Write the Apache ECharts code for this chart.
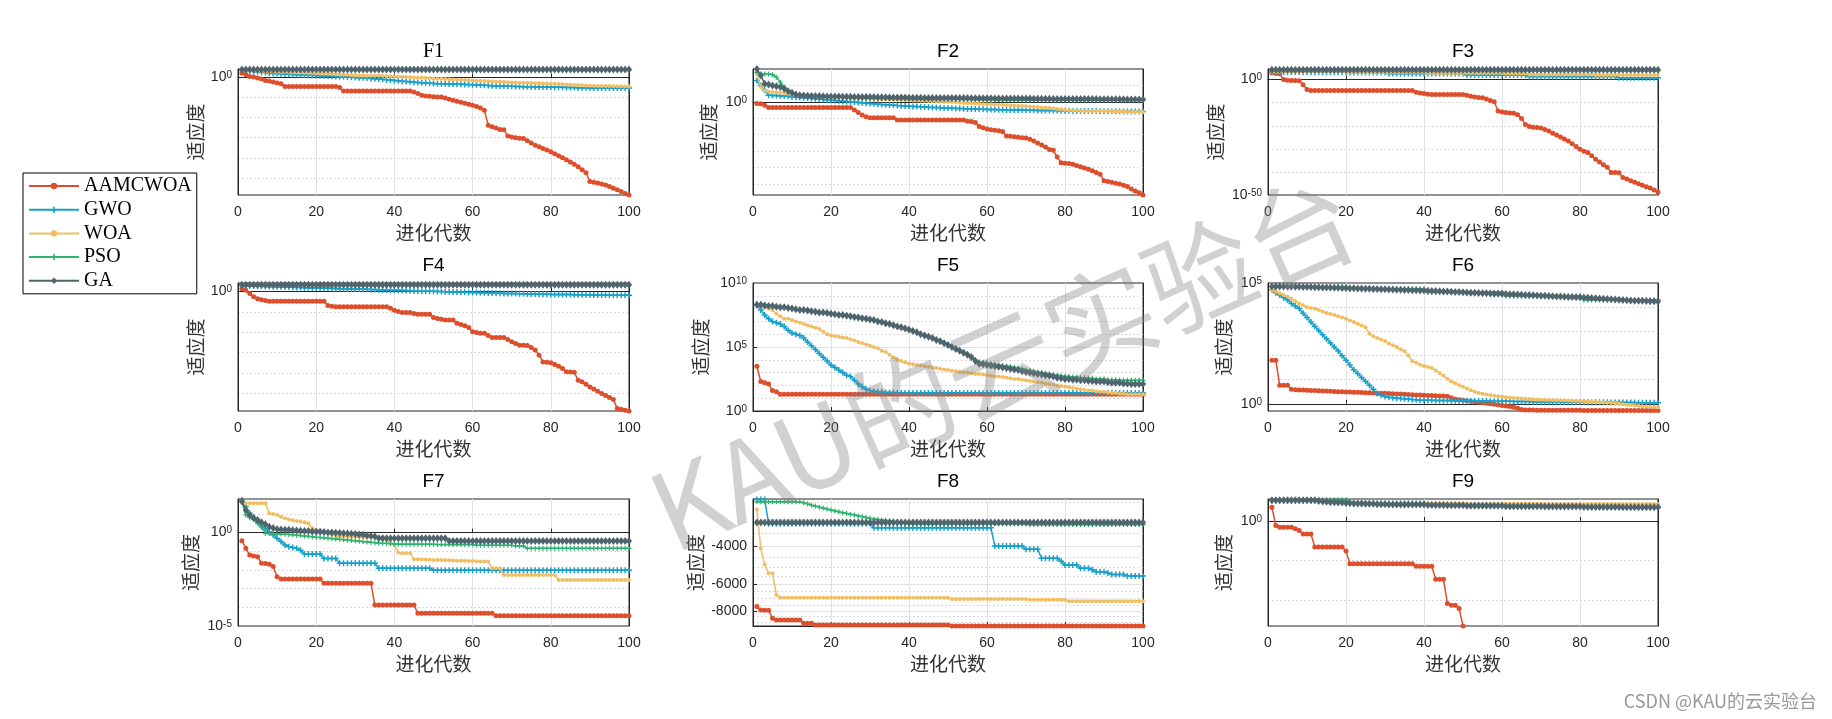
<!DOCTYPE html>
<html><head><meta charset="utf-8">
<script src="https://cdn.jsdelivr.net/npm/echarts@6/dist/echarts.min.js"></script>
<style>html,body{margin:0;padding:0;background:#fff}#c{width:1832px;height:719px}</style>
</head><body><div id="c"></div>
<script>
// ===== Data (log panels: values are log10 of fitness; F8: raw fitness) =====
const SERIES_NAMES = ['AAMCWOA','GWO','WOA','PSO','GA'];
const PANEL_TITLES = ['F1','F2','F3','F4','F5','F6','F7','F8','F9'];
const X_TICKS = [0,20,40,60,80,100];

const F1_AAMCWOA=[2.1,1.5,0.5,0.2,-0.3,-0.8,-1.5,-1.8,-2.3,-2.8,
-3.2,-4.5,-4.5,-4.5,-4.5,-4.5,-4.5,-4.5,-4.5,-4.5,
-4.5,-4.5,-4.5,-4.5,-4.5,-5.0,-6.8,-6.8,-6.8,-6.8,
-6.8,-6.8,-6.8,-6.8,-6.8,-6.8,-6.8,-6.8,-6.8,-6.8,
-6.8,-6.8,-6.8,-6.8,-7.2,-8.0,-8.9,-9.2,-9.4,-9.6,
-9.7,-9.7,-10.2,-10.8,-11.4,-11.8,-12.3,-12.8,-13.3,-13.9,
-14.5,-15.2,-16.3,-23.8,-24.5,-25.2,-25.9,-26.0,-29.2,-29.6,
-30.0,-30.2,-30.4,-31.5,-32.6,-33.7,-34.5,-35.3,-36.1,-37.0,
-38.0,-39.0,-40.0,-41.0,-42.1,-43.2,-44.4,-45.9,-47.4,-51.8,
-52.1,-52.5,-53.0,-53.5,-54.3,-55.1,-55.9,-56.8,-57.7,-58.5];
const F1_GWO=[3.5,3.4,3.2,3.0,2.8,2.6,2.4,2.2,2.0,1.9,
1.8,1.7,1.6,1.5,1.4,1.3,1.2,1.1,1.05,1.0,
0.9,0.8,0.7,0.6,0.5,0.4,0.3,0.2,0.1,0.0,
-0.1,-0.2,-0.3,-0.5,-0.6,-0.8,-0.9,-1.1,-1.3,-1.5,
-1.7,-1.9,-2.0,-2.2,-2.4,-2.5,-2.7,-2.8,-2.9,-3.0,
-3.1,-3.1,-3.2,-3.3,-3.3,-3.4,-3.4,-3.5,-3.5,-3.6,
-3.7,-3.8,-3.9,-4.0,-4.1,-4.2,-4.2,-4.3,-4.4,-4.4,
-4.5,-4.5,-4.6,-4.6,-4.6,-4.7,-4.7,-4.7,-4.8,-4.8,
-4.9,-4.9,-4.9,-5.0,-5.0,-5.0,-5.1,-5.1,-5.1,-5.2,
-5.2,-5.2,-5.2,-5.2,-5.3,-5.3,-5.3,-5.3,-5.3,-5.3];
const F1_WOA=[3.6,3.6,3.5,3.4,3.3,3.2,3.1,3.0,2.9,2.8,
2.7,2.7,2.6,2.5,2.5,2.4,2.3,2.3,2.2,2.1,
2.0,1.9,1.8,1.7,1.6,1.5,1.4,1.3,1.2,1.1,
1.0,1.0,0.9,0.9,0.8,0.8,0.7,0.6,0.6,0.5,
0.4,0.3,0.2,0.1,0.0,-0.1,-0.2,-0.3,-0.4,-0.5,
-0.6,-0.7,-0.8,-0.9,-1.0,-1.1,-1.2,-1.3,-1.4,-1.5,
-1.6,-1.7,-1.8,-1.9,-2.0,-2.1,-2.2,-2.3,-2.4,-2.5,
-2.5,-2.6,-2.7,-2.7,-2.8,-2.9,-2.9,-3.0,-3.0,-3.1,
-3.2,-3.3,-3.4,-3.5,-3.6,-3.7,-3.8,-3.9,-4.0,-4.1,
-4.1,-4.2,-4.2,-4.3,-4.3,-4.4,-4.4,-4.4,-4.5,-4.5];
const F1_PSO=[3.9,3.9,3.9,3.9,3.9,3.9,3.9,3.9,3.9,3.9,
3.9,3.9,3.9,3.9,3.9,3.9,3.9,3.9,3.9,3.9,
3.9,3.9,3.9,3.9,3.9,3.9,3.9,3.9,3.9,3.9,
3.9,3.9,3.9,3.9,3.9,3.9,3.9,3.9,3.9,3.9,
3.9,3.9,3.9,3.9,3.9,3.9,3.9,3.9,3.9,3.9,
3.9,3.9,3.9,3.9,3.9,3.9,3.9,3.9,3.9,3.9,
3.9,3.9,3.9,3.9,3.9,3.9,3.9,3.9,3.9,3.9,
3.9,3.9,3.9,3.9,3.9,3.9,3.9,3.9,3.9,3.9,
3.9,3.9,3.9,3.9,3.9,3.9,3.9,3.9,3.9,3.9,
3.9,3.9,3.9,3.9,3.9,3.9,3.9,3.9,3.9,3.9];
const F1_GA=[4.0,4.0,4.0,4.0,4.0,4.0,4.0,4.0,4.0,4.0,
4.0,4.0,4.0,4.0,4.0,4.0,4.0,4.0,4.0,4.0,
4.0,4.0,4.0,4.0,4.0,4.0,4.0,4.0,4.0,4.0,
4.0,4.0,4.0,4.0,4.0,4.0,4.0,4.0,4.0,4.0,
4.0,4.0,4.0,4.0,4.0,4.0,4.0,4.0,4.0,4.0,
4.0,4.0,4.0,4.0,4.0,4.0,4.0,4.0,4.0,4.0,
4.0,4.0,4.0,4.0,4.0,4.0,4.0,4.0,4.0,4.0,
4.0,4.0,4.0,4.0,4.0,4.0,4.0,4.0,4.0,4.0,
4.0,4.0,4.0,4.0,4.0,4.0,4.0,4.0,4.0,4.0,
4.0,4.0,4.0,4.0,4.0,4.0,4.0,4.0,4.0,4.0];

const F2_AAMCWOA=[-1.0,-1.2,-2.0,-3.4,-3.5,-3.5,-3.5,-3.5,-3.5,-3.5,
-3.5,-3.5,-3.5,-3.5,-3.5,-3.5,-3.5,-3.5,-3.5,-3.5,
-3.5,-3.5,-3.5,-3.5,-3.5,-5.0,-6.5,-8.0,-9.0,-9.6,
-9.6,-9.6,-9.6,-9.6,-9.6,-9.6,-11.0,-11.1,-11.1,-11.1,
-11.1,-11.1,-11.1,-11.1,-11.1,-11.1,-11.1,-11.1,-11.1,-11.1,
-11.1,-11.1,-11.1,-11.1,-11.8,-12.0,-12.5,-15.0,-15.8,-16.5,
-17.0,-17.3,-17.6,-18.0,-20.8,-21.0,-21.3,-21.6,-21.8,-22.0,
-22.8,-23.8,-25.0,-26.2,-27.5,-29.0,-29.5,-33.6,-37.0,-37.3,
-37.6,-38.0,-38.8,-39.5,-40.2,-41.0,-42.0,-43.0,-44.0,-48.0,
-48.5,-49.0,-49.5,-50.0,-50.8,-51.6,-53.0,-54.2,-55.4,-56.7];
const F2_GWO=[13,10,7,4,3.9,3.8,3.7,3.6,3.5,3.0,
2.8,2.6,2.5,2.3,2.1,1.9,1.7,1.5,1.2,1.0,
0.8,0.6,0.4,0.2,0.0,-0.2,-0.4,-0.6,-0.8,-1.0,
-1.2,-1.4,-1.6,-1.7,-1.9,-2.0,-2.2,-2.3,-2.5,-2.6,
-2.8,-2.9,-3.0,-3.2,-3.3,-3.4,-3.5,-3.6,-3.7,-3.8,
-3.9,-4.0,-4.1,-4.2,-4.3,-4.3,-4.4,-4.5,-4.5,-4.6,
-4.7,-4.7,-4.8,-4.8,-4.9,-4.9,-5.0,-5.0,-5.0,-5.1,
-5.1,-5.1,-5.2,-5.2,-5.2,-5.3,-5.3,-5.3,-5.4,-5.4,
-5.4,-5.5,-5.5,-5.5,-5.6,-5.6,-5.6,-5.6,-5.7,-5.7,
-5.7,-5.7,-5.7,-5.8,-5.8,-5.8,-5.8,-5.8,-5.8,-5.8];
const F2_WOA=[17,9,6.7,6.2,6.0,5.8,5.6,5.3,5.0,4.5,
4.3,4.2,4.0,3.9,3.8,3.6,3.5,3.3,3.1,3.0,
2.9,2.8,2.7,2.6,2.5,2.4,2.3,2.2,2.1,2.0,
1.9,1.8,1.7,1.6,1.5,1.4,1.3,1.2,1.1,1.0,
0.9,0.8,0.7,0.6,0.5,0.4,0.3,0.2,0.1,0.0,
-0.1,-0.3,-0.5,-0.7,-0.8,-0.9,-1.0,-1.1,-1.3,-1.4,
-1.5,-1.6,-1.7,-1.8,-1.9,-2.0,-2.2,-2.3,-2.5,-2.6,
-2.8,-3.0,-3.2,-3.4,-3.6,-3.8,-4.1,-4.4,-4.7,-5.0,
-5.1,-5.2,-5.3,-5.4,-5.5,-5.5,-5.6,-5.6,-5.6,-5.6,
-5.7,-5.8,-5.9,-6.0,-6.0,-6.1,-6.1,-6.2,-6.2,-6.2];
const F2_PSO=[18,17,17,17,16.5,15,12,9,7,5.5,
4.6,4.2,3.6,3.5,3.4,3.3,3.2,3.1,3.0,3.0,
2.9,2.9,2.8,2.8,2.7,2.7,2.6,2.6,2.5,2.5,
2.4,2.4,2.3,2.3,2.2,2.2,2.1,2.1,2.0,2.0,
1.95,1.9,1.9,1.85,1.8,1.8,1.75,1.7,1.7,1.65,
1.6,1.6,1.55,1.5,1.5,1.45,1.4,1.4,1.35,1.3,
1.3,1.3,1.25,1.25,1.2,1.2,1.2,1.15,1.15,1.1,
1.1,1.1,1.1,1.1,1.1,1.1,1.1,1.1,1.1,1.1,
1.05,1.05,1.05,1.05,1.05,1.05,1.05,1.05,1.05,1.05,
1.0,1.0,1.0,1.0,1.0,1.0,1.0,1.0,1.0,1.0];
const F2_GA=[20,16,11,10.5,10,9.5,9,8,6.5,5.5,
4.5,4.0,3.8,3.7,3.6,3.5,3.5,3.4,3.3,3.2,
3.2,3.2,3.1,3.1,3.1,3.0,3.0,3.0,2.9,2.9,
2.9,2.8,2.8,2.8,2.7,2.7,2.7,2.6,2.6,2.5,
2.5,2.5,2.5,2.4,2.4,2.4,2.4,2.4,2.3,2.3,
2.3,2.3,2.3,2.3,2.3,2.2,2.2,2.2,2.2,2.2,
2.2,2.1,2.1,2.1,2.1,2.1,2.0,2.0,2.0,2.0,
2.0,1.9,1.9,1.9,1.9,1.9,1.8,1.8,1.8,1.8,
1.8,1.8,1.7,1.7,1.7,1.7,1.7,1.7,1.6,1.6,
1.6,1.6,1.6,1.6,1.6,1.5,1.5,1.5,1.5,1.5];

const F3_AAMCWOA=[2.9,2.7,2.5,0.0,-0.3,-0.4,-0.4,-0.5,-2.2,-4.3,
-4.7,-4.7,-4.7,-4.7,-4.7,-4.7,-4.7,-4.7,-4.7,-4.7,
-4.7,-4.7,-4.7,-4.7,-4.7,-4.7,-4.7,-4.7,-4.7,-4.7,
-4.7,-4.7,-4.7,-4.7,-4.7,-4.7,-4.7,-5.5,-5.8,-6.0,
-6.3,-6.5,-6.5,-6.5,-6.5,-6.5,-6.5,-6.5,-6.5,-6.5,
-6.8,-7.2,-7.5,-7.7,-7.9,-8.4,-9.0,-9.6,-13.6,-14.0,
-14.3,-14.5,-14.6,-15.2,-16.8,-19.4,-20.3,-20.6,-20.8,-21.0,
-21.6,-22.3,-23.2,-24.0,-24.9,-25.7,-26.6,-27.8,-29.0,-30.2,
-31.0,-31.6,-33.0,-34.5,-35.7,-36.9,-38.0,-40.2,-40.3,-40.4,
-42.4,-43.1,-43.8,-44.5,-45.1,-45.8,-46.4,-47.0,-47.8,-48.7];
const F3_GWO=[3.3,3.3,3.3,3.3,3.3,3.3,3.3,3.3,3.3,3.3,
3.2,3.2,3.2,3.2,3.2,3.2,3.2,3.2,3.2,3.2,
3.1,3.1,3.1,3.1,3.1,3.1,3.1,3.1,3.1,3.1,
2.6,2.6,2.6,2.6,2.6,2.6,2.6,2.6,2.6,2.6,
2.6,2.6,2.6,2.6,2.6,2.6,2.6,2.6,2.6,2.6,
2.0,2.0,2.0,2.0,2.0,2.0,2.0,2.0,2.0,2.0,
2.0,2.0,2.0,2.0,2.0,2.0,1.4,1.4,1.4,1.4,
1.4,1.4,1.4,1.4,1.4,1.4,1.4,1.4,1.4,1.4,
1.4,1.4,1.4,1.4,1.4,1.4,1.4,1.4,1.4,0.8,
0.8,0.8,0.8,0.8,0.8,0.8,0.8,0.8,0.8,0.8];
const F3_WOA=[3.4,3.4,3.4,3.4,3.4,3.4,3.4,3.4,3.4,3.4,
3.4,3.4,3.4,3.4,3.4,3.4,3.4,3.4,3.4,3.4,
3.2,3.2,3.2,3.2,3.2,3.2,3.2,3.2,3.2,3.2,
3.2,3.2,3.2,3.2,3.2,3.2,3.2,3.2,3.2,3.2,
2.9,2.9,2.9,2.9,2.9,2.9,2.9,2.9,2.9,2.9,
2.9,2.9,2.9,2.9,2.9,2.9,2.9,2.9,2.9,2.9,
2.6,2.6,2.6,2.6,2.6,2.6,2.2,2.2,2.2,2.2,
2.2,2.2,2.2,2.2,2.2,2.2,2.2,2.2,2.2,2.2,
2.2,2.2,2.2,2.0,2.0,2.0,2.0,2.0,2.0,2.0,
2.0,2.0,2.0,2.0,2.0,2.0,2.0,2.0,2.0,2.0];
const F3_PSO=[3.9,3.9,3.9,3.9,3.9,3.9,3.9,3.9,3.9,3.9,
3.9,3.9,3.9,3.9,3.9,3.9,3.9,3.9,3.9,3.9,
3.9,3.9,3.9,3.9,3.9,3.9,3.9,3.9,3.9,3.9,
3.9,3.9,3.9,3.9,3.9,3.9,3.9,3.9,3.9,3.9,
3.9,3.9,3.9,3.9,3.9,3.9,3.9,3.9,3.9,3.9,
3.9,3.9,3.9,3.9,3.9,3.9,3.9,3.9,3.9,3.9,
3.9,3.9,3.9,3.9,3.9,3.9,3.9,3.9,3.9,3.9,
3.9,3.9,3.9,3.9,3.9,3.9,3.9,3.9,3.9,3.9,
3.9,3.9,3.9,3.9,3.9,3.9,3.9,3.9,3.9,3.9,
3.9,3.9,3.9,3.9,3.9,3.9,3.9,3.9,3.9,3.9];
const F3_GA=[4.3,4.3,4.3,4.3,4.3,4.3,4.3,4.3,4.3,4.3,
4.3,4.3,4.3,4.3,4.3,4.3,4.3,4.3,4.3,4.3,
4.3,4.3,4.3,4.3,4.3,4.3,4.3,4.3,4.3,4.3,
4.3,4.3,4.3,4.3,4.3,4.3,4.3,4.3,4.3,4.3,
4.3,4.3,4.3,4.3,4.3,4.3,4.3,4.3,4.3,4.3,
4.3,4.3,4.3,4.3,4.3,4.3,4.3,4.3,4.3,4.3,
4.3,4.3,4.3,4.3,4.3,4.3,4.3,4.3,4.3,4.3,
4.3,4.3,4.3,4.3,4.3,4.3,4.3,4.3,4.3,4.3,
4.3,4.3,4.3,4.3,4.3,4.3,4.3,4.3,4.3,4.3,
4.3,4.3,4.3,4.3,4.3,4.3,4.3,4.3,4.3,4.3];

const F4_AAMCWOA=[1.4,0.6,-1.0,-2.5,-3.5,-4.0,-4.4,-4.7,-4.8,-4.8,
-4.8,-4.8,-4.8,-4.8,-4.8,-4.8,-4.8,-4.8,-4.8,-4.8,
-4.8,-4.8,-6.8,-7.2,-7.5,-7.5,-7.5,-7.5,-7.5,-7.5,
-7.5,-7.5,-7.5,-7.5,-7.5,-7.5,-7.5,-7.5,-8.2,-9.2,
-9.8,-10.3,-10.3,-10.3,-10.8,-11.1,-11.1,-11.1,-11.1,-12.7,
-13.2,-13.6,-14.0,-14.0,-14.0,-15.6,-16.2,-16.8,-17.6,-19.7,
-20.1,-20.5,-20.5,-21.5,-22.5,-22.5,-22.5,-22.6,-23.5,-24.6,
-25.5,-26.3,-26.4,-26.5,-27.5,-28.7,-31.2,-34.5,-34.7,-34.9,
-35.8,-36.6,-37.8,-39.4,-39.5,-39.6,-43.5,-44.3,-45.5,-46.8,
-47.8,-48.9,-50.0,-51.0,-52.0,-53.0,-57.4,-57.8,-58.2,-58.6];
const F4_GWO=[3.0,2.9,2.9,2.8,2.7,2.6,2.5,2.5,2.4,2.3,
2.3,2.2,2.2,2.1,2.0,2.0,1.9,1.9,1.8,1.7,
1.7,1.6,1.6,1.5,1.5,1.4,1.4,1.3,1.3,1.2,
1.2,1.1,1.1,1.0,1.0,0.9,0.8,0.8,0.7,0.6,
0.6,0.5,0.5,0.4,0.3,0.3,0.2,0.2,0.1,0.1,
0.0,0.0,-0.1,-0.1,-0.2,-0.2,-0.3,-0.3,-0.4,-0.5,
-0.5,-0.6,-0.6,-0.7,-0.7,-0.8,-0.8,-0.9,-0.9,-1.0,
-1.0,-1.1,-1.1,-1.2,-1.2,-1.2,-1.3,-1.3,-1.3,-1.4,
-1.4,-1.4,-1.5,-1.5,-1.5,-1.6,-1.6,-1.6,-1.6,-1.7,
-1.7,-1.7,-1.7,-1.7,-1.8,-1.8,-1.8,-1.8,-1.8,-1.8];
const F4_WOA=[3.2,3.2,3.2,3.2,3.2,3.2,3.2,3.2,3.2,3.2,
3.2,3.2,3.2,3.2,3.2,3.2,3.2,3.2,3.2,3.2,
3.2,3.2,3.2,3.2,3.2,3.2,3.2,3.2,3.2,3.2,
3.2,3.2,3.2,3.2,3.2,3.2,3.2,3.2,3.2,3.2,
3.2,3.2,3.2,3.2,3.2,3.2,3.2,3.2,3.2,3.2,
3.2,3.2,3.2,3.2,3.2,3.2,3.2,3.2,3.2,3.2,
3.2,3.2,3.2,3.2,3.2,3.2,3.2,3.2,3.2,3.2,
3.2,3.2,3.2,3.2,3.2,3.2,3.2,3.2,3.2,3.2,
3.2,3.2,3.2,3.2,3.2,3.2,3.2,3.2,3.2,3.2,
3.2,3.2,3.2,3.2,3.2,3.2,3.2,3.2,3.2,3.2];
const F4_PSO=[3.3,3.3,3.3,3.3,3.3,3.3,3.3,3.3,3.3,3.3,
3.3,3.3,3.3,3.3,3.3,3.3,3.3,3.3,3.3,3.3,
3.3,3.3,3.3,3.3,3.3,3.3,3.3,3.3,3.3,3.3,
3.3,3.3,3.3,3.3,3.3,3.3,3.3,3.3,3.3,3.3,
3.3,3.3,3.3,3.3,3.3,3.3,3.3,3.3,3.3,3.3,
3.3,3.3,3.3,3.3,3.3,3.3,3.3,3.3,3.3,3.3,
3.3,3.3,3.3,3.3,3.3,3.3,3.3,3.3,3.3,3.3,
3.3,3.3,3.3,3.3,3.3,3.3,3.3,3.3,3.3,3.3,
3.3,3.3,3.3,3.3,3.3,3.3,3.3,3.3,3.3,3.3,
3.3,3.3,3.3,3.3,3.3,3.3,3.3,3.3,3.3,3.3];
const F4_GA=[3.4,3.4,3.4,3.4,3.4,3.4,3.4,3.4,3.4,3.4,
3.4,3.4,3.4,3.4,3.4,3.4,3.4,3.4,3.4,3.4,
3.4,3.4,3.4,3.4,3.4,3.4,3.4,3.4,3.4,3.4,
3.4,3.4,3.4,3.4,3.4,3.4,3.4,3.4,3.4,3.4,
3.4,3.4,3.4,3.4,3.4,3.4,3.4,3.4,3.4,3.4,
3.4,3.4,3.4,3.4,3.4,3.4,3.4,3.4,3.4,3.4,
3.4,3.4,3.4,3.4,3.4,3.4,3.4,3.4,3.4,3.4,
3.4,3.4,3.4,3.4,3.4,3.4,3.4,3.4,3.4,3.4,
3.4,3.4,3.4,3.4,3.4,3.4,3.4,3.4,3.4,3.4,
3.4,3.4,3.4,3.4,3.4,3.4,3.4,3.4,3.4,3.4];

const F5_AAMCWOA=[3.5,2.3,2.2,2.1,1.6,1.5,1.3,1.3,1.3,1.3,
1.3,1.3,1.3,1.3,1.3,1.3,1.3,1.3,1.3,1.3,
1.3,1.3,1.3,1.3,1.3,1.3,1.3,1.3,1.3,1.3,
1.3,1.3,1.3,1.3,1.3,1.3,1.3,1.3,1.3,1.3,
1.3,1.3,1.3,1.3,1.3,1.3,1.3,1.3,1.3,1.3,
1.3,1.3,1.3,1.3,1.3,1.3,1.3,1.3,1.3,1.3,
1.3,1.3,1.3,1.3,1.3,1.3,1.3,1.3,1.3,1.3,
1.3,1.3,1.3,1.3,1.3,1.3,1.3,1.3,1.3,1.3,
1.3,1.3,1.3,1.3,1.3,1.3,1.3,1.3,1.3,1.3,
1.3,1.3,1.3,1.3,1.3,1.3,1.3,1.3,1.3,1.3];
const F5_GWO=[8.3,7.9,7.5,7.2,7.0,6.9,6.8,6.6,6.3,6.1,
6.0,5.9,5.7,5.4,5.1,4.8,4.5,4.2,3.9,3.6,
3.4,3.2,3.0,2.8,2.7,2.4,2.1,1.9,1.7,1.6,
1.55,1.5,1.5,1.45,1.45,1.45,1.4,1.4,1.4,1.4,
1.4,1.4,1.4,1.4,1.4,1.4,1.4,1.4,1.4,1.4,
1.4,1.4,1.4,1.4,1.4,1.4,1.4,1.4,1.4,1.4,
1.4,1.4,1.4,1.4,1.4,1.4,1.4,1.4,1.4,1.4,
1.4,1.4,1.4,1.4,1.4,1.4,1.4,1.4,1.4,1.4,
1.4,1.4,1.4,1.4,1.4,1.4,1.4,1.4,1.4,1.4,
1.4,1.4,1.4,1.4,1.4,1.4,1.4,1.4,1.4,1.4];
const F5_WOA=[8.3,8.2,8.1,8.0,7.9,7.6,7.4,7.2,7.2,7.1,
7.0,6.9,6.8,6.7,6.6,6.5,6.4,6.2,6.0,5.9,
5.85,5.8,5.75,5.7,5.6,5.5,5.4,5.3,5.2,5.1,
5.0,4.9,4.7,4.6,4.4,4.2,4.0,3.9,3.8,3.7,
3.65,3.6,3.55,3.5,3.45,3.4,3.35,3.3,3.25,3.2,
3.15,3.1,3.05,3.0,3.0,2.95,2.9,2.9,2.85,2.8,
2.75,2.7,2.7,2.65,2.6,2.55,2.5,2.5,2.45,2.4,
2.35,2.3,2.25,2.2,2.15,2.1,2.05,2.0,1.95,1.9,
1.85,1.8,1.75,1.7,1.65,1.6,1.6,1.55,1.5,1.5,
1.45,1.4,1.4,1.35,1.35,1.3,1.3,1.3,1.3,1.3];
const F5_PSO=[8.35,8.35,8.3,8.25,8.25,8.2,8.15,8.15,8.1,8.05,
8.0,7.95,7.95,7.9,7.85,7.8,7.75,7.75,7.7,7.65,
7.6,7.55,7.55,7.5,7.45,7.4,7.35,7.3,7.25,7.2,
7.15,7.05,7.0,6.9,6.85,6.75,6.65,6.6,6.5,6.4,
6.3,6.2,6.05,5.95,5.85,5.75,5.6,5.5,5.35,5.2,
5.05,4.9,4.75,4.6,4.45,4.3,4.0,3.85,3.8,3.75,
3.7,3.65,3.6,3.55,3.5,3.45,3.4,3.35,3.3,3.2,
3.15,3.1,3.05,3.0,2.95,2.9,2.85,2.8,2.75,2.7,
2.7,2.65,2.65,2.6,2.6,2.55,2.55,2.5,2.5,2.5,
2.45,2.45,2.45,2.4,2.4,2.4,2.4,2.4,2.4,2.4];
const F5_GA=[8.3,8.3,8.25,8.2,8.2,8.15,8.1,8.1,8.05,8.0,
7.95,7.9,7.9,7.85,7.8,7.75,7.7,7.7,7.65,7.6,
7.55,7.5,7.5,7.45,7.4,7.35,7.3,7.25,7.2,7.15,
7.1,7.0,6.95,6.85,6.8,6.7,6.6,6.55,6.45,6.35,
6.25,6.15,6.0,5.9,5.8,5.7,5.55,5.45,5.3,5.15,
5.0,4.85,4.7,4.55,4.4,4.2,3.9,3.7,3.65,3.6,
3.55,3.5,3.45,3.4,3.35,3.3,3.25,3.2,3.1,3.05,
3.0,2.95,2.9,2.85,2.8,2.75,2.7,2.6,2.55,2.5,
2.5,2.45,2.45,2.4,2.4,2.35,2.35,2.3,2.3,2.3,
2.25,2.2,2.2,2.2,2.15,2.15,2.1,2.1,2.1,2.1];

const F6_AAMCWOA=[1.8,1.8,0.77,0.77,0.77,0.6,0.58,0.57,0.57,0.56,
0.55,0.55,0.54,0.53,0.53,0.52,0.51,0.5,0.5,0.49,
0.49,0.48,0.48,0.47,0.46,0.46,0.45,0.44,0.43,0.43,
0.42,0.41,0.4,0.4,0.39,0.38,0.37,0.36,0.36,0.35,
0.34,0.34,0.33,0.32,0.32,0.31,0.25,0.2,0.17,0.14,
0.12,0.1,0.08,0.06,0.04,0.02,0.0,-0.02,-0.04,-0.07,
-0.09,-0.11,-0.14,-0.19,-0.24,-0.26,-0.26,-0.26,-0.27,-0.27,
-0.27,-0.27,-0.27,-0.27,-0.27,-0.27,-0.27,-0.27,-0.27,-0.27,
-0.28,-0.28,-0.28,-0.28,-0.28,-0.28,-0.28,-0.28,-0.28,-0.28,
-0.28,-0.28,-0.28,-0.28,-0.28,-0.28,-0.28,-0.28,-0.28,-0.28];
const F6_GWO=[4.72,4.6,4.5,4.4,4.3,4.15,4.05,3.94,3.75,3.57,
3.39,3.21,3.03,2.86,2.69,2.52,2.35,2.18,1.99,1.8,
1.6,1.41,1.25,1.09,0.93,0.77,0.6,0.42,0.35,0.3,
0.27,0.25,0.23,0.22,0.21,0.2,0.18,0.17,0.15,0.14,
0.14,0.14,0.13,0.13,0.13,0.13,0.12,0.12,0.12,0.12,
0.12,0.11,0.11,0.11,0.11,0.11,0.1,0.1,0.1,0.1,
0.1,0.1,0.09,0.09,0.09,0.09,0.09,0.08,0.08,0.08,
0.08,0.08,0.08,0.08,0.07,0.07,0.07,0.07,0.07,0.07,
0.07,0.06,0.06,0.06,0.06,0.06,0.06,0.05,0.05,0.05,
0.05,0.05,0.05,0.05,0.04,0.04,0.04,0.04,0.04,0.04];
const F6_WOA=[4.72,4.65,4.58,4.5,4.44,4.35,4.25,4.15,4.08,4.0,
3.97,3.93,3.88,3.82,3.76,3.72,3.67,3.62,3.57,3.52,
3.45,3.38,3.31,3.24,3.17,2.9,2.8,2.72,2.66,2.6,
2.5,2.42,2.35,2.26,2.18,2.0,1.76,1.7,1.62,1.56,
1.52,1.48,1.38,1.27,1.16,1.04,0.92,0.85,0.77,0.7,
0.63,0.56,0.5,0.45,0.41,0.38,0.35,0.33,0.31,0.29,
0.27,0.25,0.24,0.23,0.22,0.21,0.2,0.19,0.18,0.17,
0.17,0.16,0.16,0.15,0.14,0.14,0.13,0.12,0.12,0.11,
0.1,0.09,0.08,0.07,0.06,0.05,0.04,0.03,0.02,0.0,
-0.02,-0.04,-0.05,-0.07,-0.08,-0.1,-0.11,-0.12,-0.13,-0.14];
const F6_PSO=[4.84,4.84,4.84,4.84,4.84,4.84,4.84,4.84,4.84,4.84,
4.84,4.84,4.84,4.84,4.84,4.84,4.84,4.84,4.84,4.84,
4.75,4.75,4.75,4.75,4.75,4.75,4.75,4.75,4.75,4.75,
4.75,4.75,4.75,4.75,4.75,4.75,4.75,4.75,4.75,4.75,
4.62,4.62,4.62,4.62,4.62,4.62,4.62,4.62,4.62,4.62,
4.62,4.62,4.62,4.62,4.62,4.62,4.62,4.62,4.62,4.62,
4.46,4.46,4.46,4.46,4.46,4.46,4.46,4.46,4.46,4.46,
4.46,4.46,4.46,4.46,4.46,4.46,4.46,4.46,4.46,4.46,
4.3,4.3,4.3,4.3,4.3,4.3,4.3,4.3,4.3,4.3,
4.3,4.3,4.3,4.3,4.3,4.3,4.3,4.3,4.3,4.3];
const F6_GA=[4.86,4.86,4.86,4.85,4.85,4.85,4.84,4.84,4.83,4.83,
4.83,4.82,4.82,4.81,4.81,4.81,4.8,4.8,4.79,4.79,
4.78,4.78,4.77,4.77,4.76,4.76,4.75,4.75,4.74,4.74,
4.73,4.73,4.72,4.72,4.71,4.71,4.7,4.7,4.69,4.69,
4.68,4.67,4.67,4.66,4.65,4.65,4.64,4.63,4.63,4.62,
4.61,4.6,4.6,4.59,4.58,4.58,4.57,4.56,4.56,4.55,
4.54,4.53,4.53,4.52,4.51,4.5,4.5,4.49,4.48,4.47,
4.47,4.46,4.45,4.44,4.44,4.43,4.42,4.42,4.41,4.41,
4.4,4.39,4.38,4.37,4.36,4.35,4.34,4.33,4.32,4.31,
4.3,4.29,4.28,4.27,4.26,4.26,4.25,4.24,4.24,4.23];

const F7_AAMCWOA=[-0.43,-0.84,-1.2,-1.25,-1.29,-1.64,-1.66,-1.7,-1.82,-2.36,
-2.48,-2.48,-2.48,-2.48,-2.48,-2.48,-2.48,-2.48,-2.48,-2.48,
-2.48,-2.71,-2.71,-2.71,-2.71,-2.71,-2.71,-2.71,-2.71,-2.71,
-2.71,-2.71,-2.71,-2.71,-3.88,-3.88,-3.88,-3.88,-3.88,-3.88,
-3.88,-3.88,-3.88,-3.88,-3.88,-4.32,-4.32,-4.32,-4.32,-4.32,
-4.32,-4.32,-4.32,-4.32,-4.32,-4.32,-4.32,-4.32,-4.32,-4.32,
-4.32,-4.32,-4.32,-4.32,-4.32,-4.45,-4.45,-4.45,-4.45,-4.45,
-4.45,-4.45,-4.45,-4.45,-4.45,-4.45,-4.45,-4.45,-4.45,-4.45,
-4.45,-4.45,-4.45,-4.45,-4.45,-4.45,-4.45,-4.45,-4.45,-4.45,
-4.45,-4.45,-4.45,-4.45,-4.45,-4.45,-4.45,-4.45,-4.45,-4.45];
const F7_GWO=[1.75,1.4,1.04,0.8,0.58,0.36,0.2,0.05,-0.13,-0.3,
-0.48,-0.66,-0.75,-0.8,-0.84,-0.95,-1.14,-1.14,-1.14,-1.14,
-1.14,-1.38,-1.38,-1.38,-1.38,-1.64,-1.64,-1.64,-1.64,-1.64,
-1.64,-1.64,-1.64,-1.64,-1.64,-1.91,-1.91,-1.91,-1.91,-1.91,
-1.91,-1.91,-1.91,-1.91,-1.91,-1.91,-1.91,-1.91,-1.91,-2.02,
-2.02,-2.02,-2.02,-2.02,-2.02,-2.02,-2.02,-2.02,-2.02,-2.02,
-2.02,-2.02,-2.02,-2.02,-2.02,-2.02,-2.02,-2.02,-2.02,-2.02,
-2.02,-2.02,-2.02,-2.02,-2.02,-2.02,-2.02,-2.02,-2.02,-2.02,
-2.02,-2.02,-2.02,-2.02,-2.02,-2.02,-2.02,-2.02,-2.02,-2.02,
-2.02,-2.02,-2.02,-2.02,-2.02,-2.02,-2.02,-2.02,-2.02,-2.02];
const F7_WOA=[1.66,1.57,1.57,1.57,1.57,1.57,1.57,1.04,1.0,0.95,
0.85,0.77,0.7,0.66,0.62,0.59,0.55,0.5,0.23,0.14,
0.1,0.05,0.0,-0.1,-0.21,-0.21,-0.22,-0.22,-0.23,-0.23,
-0.23,-0.24,-0.24,-0.24,-0.25,-0.25,-0.25,-0.4,-0.55,-0.66,
-1.07,-1.1,-1.1,-1.1,-1.43,-1.43,-1.44,-1.44,-1.45,-1.46,
-1.46,-1.47,-1.48,-1.48,-1.49,-1.5,-1.5,-1.51,-1.52,-1.52,
-1.53,-1.54,-1.54,-1.55,-1.91,-1.91,-1.91,-2.27,-2.27,-2.27,
-2.27,-2.27,-2.27,-2.27,-2.27,-2.27,-2.27,-2.27,-2.27,-2.27,
-2.27,-2.54,-2.54,-2.54,-2.54,-2.54,-2.54,-2.54,-2.54,-2.54,
-2.54,-2.54,-2.54,-2.54,-2.54,-2.54,-2.54,-2.54,-2.54,-2.54];
const F7_PSO=[1.66,0.95,0.8,0.7,0.5,0.3,-0.04,-0.05,-0.06,-0.07,
-0.08,-0.09,-0.1,-0.12,-0.14,-0.16,-0.18,-0.2,-0.22,-0.25,
-0.26,-0.28,-0.3,-0.32,-0.34,-0.36,-0.38,-0.4,-0.42,-0.44,
-0.46,-0.48,-0.5,-0.52,-0.54,-0.56,-0.57,-0.58,-0.59,-0.6,
-0.62,-0.62,-0.62,-0.62,-0.62,-0.62,-0.62,-0.62,-0.62,-0.62,
-0.64,-0.64,-0.64,-0.64,-0.64,-0.64,-0.64,-0.64,-0.64,-0.64,
-0.68,-0.68,-0.68,-0.68,-0.68,-0.68,-0.68,-0.68,-0.68,-0.68,
-0.71,-0.71,-0.71,-0.84,-0.84,-0.84,-0.84,-0.84,-0.84,-0.84,
-0.84,-0.84,-0.84,-0.84,-0.84,-0.84,-0.84,-0.84,-0.84,-0.84,
-0.84,-0.84,-0.84,-0.84,-0.84,-0.84,-0.84,-0.84,-0.84,-0.84];
const F7_GA=[1.66,1.2,0.95,0.8,0.68,0.55,0.45,0.32,0.25,0.18,
0.17,0.16,0.15,0.13,0.12,0.1,0.09,0.08,0.06,0.05,
0.04,0.03,0.01,0.0,-0.01,-0.02,-0.04,-0.05,-0.06,-0.07,
-0.1,-0.12,-0.15,-0.18,-0.21,-0.3,-0.3,-0.3,-0.3,-0.3,
-0.3,-0.3,-0.3,-0.3,-0.3,-0.3,-0.3,-0.3,-0.3,-0.3,
-0.3,-0.3,-0.3,-0.45,-0.45,-0.45,-0.45,-0.45,-0.45,-0.45,
-0.45,-0.45,-0.45,-0.45,-0.45,-0.45,-0.45,-0.45,-0.45,-0.45,
-0.45,-0.45,-0.45,-0.45,-0.45,-0.45,-0.45,-0.45,-0.45,-0.45,
-0.45,-0.45,-0.45,-0.45,-0.45,-0.45,-0.45,-0.45,-0.45,-0.45,
-0.45,-0.45,-0.45,-0.45,-0.45,-0.45,-0.45,-0.45,-0.45,-0.45];

// F8: raw fitness values (negative)
const F8_AAMCWOA=[-7641,-7914,-7950,-7950,-8650,-8811,-8811,-8811,-8811,-8811,
-8811,-8811,-9128,-9128,-9128,-9290,-9290,-9290,-9290,-9290,
-9290,-9290,-9290,-9290,-9290,-9290,-9290,-9290,-9290,-9290,
-9290,-9290,-9290,-9290,-9290,-9290,-9290,-9290,-9290,-9290,
-9290,-9290,-9290,-9290,-9290,-9290,-9290,-9290,-9290,-9290,
-9400,-9400,-9400,-9400,-9400,-9400,-9400,-9400,-9400,-9400,
-9400,-9400,-9400,-9400,-9400,-9400,-9400,-9400,-9400,-9400,
-9400,-9400,-9400,-9400,-9400,-9400,-9400,-9400,-9400,-9400,
-9400,-9400,-9400,-9400,-9400,-9400,-9400,-9400,-9400,-9400,
-9400,-9400,-9400,-9400,-9400,-9400,-9400,-9400,-9400,-9400];
const F8_GWO=[-2432,-2432,-2432,-3143,-3143,-3143,-3143,-3143,-3143,-3143,
-3143,-3143,-3143,-3143,-3143,-3143,-3143,-3143,-3143,-3143,
-3143,-3143,-3143,-3143,-3143,-3143,-3143,-3143,-3143,-3143,
-3291,-3291,-3291,-3291,-3291,-3291,-3291,-3291,-3291,-3291,
-3291,-3291,-3291,-3291,-3291,-3291,-3291,-3291,-3291,-3291,
-3291,-3291,-3291,-3291,-3291,-3291,-3291,-3291,-3291,-3291,
-3291,-4000,-4000,-4000,-4000,-4000,-4000,-4000,-4000,-4141,
-4141,-4141,-4141,-4558,-4558,-4558,-4558,-4558,-4700,-4893,
-4893,-4893,-4893,-5073,-5073,-5073,-5150,-5260,-5260,-5260,
-5330,-5420,-5420,-5420,-5420,-5507,-5507,-5507,-5507,-5507];
const F8_WOA=[-2705,-4100,-4865,-5355,-5355,-6750,-6960,-6960,-6960,-6960,
-6960,-6960,-6960,-6960,-6960,-6960,-6960,-6960,-6960,-6960,
-6960,-6960,-6960,-6960,-6960,-6960,-6960,-6960,-6960,-6960,
-6960,-6960,-6960,-6960,-6960,-6960,-6960,-6960,-6960,-6960,
-6960,-6960,-6960,-6960,-6960,-6960,-6960,-6960,-6960,-6960,
-7050,-7050,-7050,-7050,-7050,-7050,-7050,-7050,-7050,-7050,
-7050,-7050,-7050,-7050,-7050,-7050,-7050,-7050,-7050,-7050,
-7100,-7100,-7100,-7100,-7100,-7100,-7100,-7100,-7100,-7100,
-7220,-7220,-7220,-7220,-7220,-7220,-7220,-7220,-7220,-7220,
-7220,-7220,-7220,-7220,-7220,-7220,-7220,-7220,-7220,-7220];
const F8_PSO=[-2495,-2495,-2495,-2495,-2495,-2495,-2495,-2495,-2495,-2495,
-2495,-2495,-2520,-2550,-2585,-2610,-2640,-2665,-2695,-2723,
-2750,-2775,-2800,-2825,-2851,-2870,-2900,-2925,-2950,-2976,
-2995,-3010,-3025,-3040,-3053,-3070,-3085,-3100,-3120,-3150,
-3150,-3150,-3150,-3150,-3150,-3150,-3150,-3150,-3150,-3150,
-3150,-3150,-3150,-3150,-3150,-3150,-3150,-3150,-3150,-3150,
-3150,-3150,-3150,-3150,-3150,-3150,-3150,-3150,-3150,-3150,
-3180,-3180,-3180,-3180,-3180,-3180,-3180,-3180,-3180,-3180,
-3180,-3180,-3180,-3180,-3180,-3180,-3180,-3180,-3180,-3180,
-3180,-3180,-3180,-3180,-3180,-3180,-3180,-3180,-3180,-3180];
const F8_GA=[-3110,-3110,-3110,-3110,-3110,-3110,-3110,-3110,-3110,-3110,
-3110,-3110,-3110,-3110,-3110,-3110,-3110,-3110,-3110,-3110,
-3110,-3110,-3110,-3110,-3110,-3110,-3110,-3110,-3110,-3110,
-3110,-3110,-3110,-3110,-3110,-3110,-3110,-3110,-3110,-3110,
-3110,-3110,-3110,-3110,-3110,-3110,-3110,-3110,-3110,-3110,
-3110,-3110,-3110,-3110,-3110,-3110,-3110,-3110,-3110,-3110,
-3110,-3110,-3110,-3110,-3110,-3110,-3110,-3110,-3110,-3110,
-3110,-3110,-3110,-3110,-3110,-3110,-3110,-3110,-3110,-3110,
-3110,-3110,-3110,-3110,-3110,-3110,-3110,-3110,-3110,-3110,
-3110,-3110,-3110,-3110,-3110,-3110,-3110,-3110,-3110,-3110];

const F9_AAMCWOA=[1.71,-0.58,-0.79,-0.79,-0.79,-0.79,-1.0,-1.21,-1.63,-1.63,
-1.63,-3.29,-3.29,-3.29,-3.29,-3.29,-3.29,-3.29,-3.29,-3.79,
-5.38,-5.38,-5.38,-5.38,-5.38,-5.38,-5.38,-5.38,-5.38,-5.38,
-5.38,-5.38,-5.38,-5.38,-5.38,-5.38,-5.38,-5.71,-5.71,-5.71,
-5.71,-5.71,-7.33,-7.33,-7.33,-10.38,-10.58,-10.58,-11.0,-13.2];
const F9_GWO=[2.55,2.55,2.55,2.55,2.55,2.55,2.55,2.55,2.55,2.55,
2.55,2.55,2.55,2.55,2.55,2.55,2.55,2.55,2.55,2.55,
2.2,2.2,2.2,2.2,2.2,2.2,2.2,2.2,2.2,2.2,
2.2,2.2,2.2,2.2,2.2,2.2,2.2,2.2,2.2,2.2,
2.0,2.0,2.0,2.0,2.0,2.0,2.0,2.0,2.0,2.0,
2.0,2.0,2.0,2.0,2.0,2.0,2.0,2.0,2.0,2.0,
1.85,1.85,1.85,1.85,1.85,1.85,1.85,1.85,1.85,1.85,
1.85,1.85,1.85,1.85,1.85,1.85,1.85,1.85,1.85,1.85,
1.75,1.75,1.75,1.75,1.75,1.75,1.75,1.75,1.75,1.75,
1.75,1.75,1.75,1.75,1.75,1.75,1.75,1.75,1.75,1.75];
const F9_WOA=[2.65,2.65,2.65,2.65,2.65,2.65,2.65,2.65,2.65,2.65,
2.6,2.6,2.55,2.5,2.45,2.4,2.4,2.35,2.35,2.3,
2.3,2.3,2.3,2.3,2.3,2.25,2.25,2.25,2.25,2.25,
2.2,2.2,2.2,2.2,2.2,2.2,2.2,2.2,2.2,2.2,
2.2,2.2,2.2,2.2,2.2,2.2,2.2,2.2,2.2,2.2,
2.15,2.15,2.15,2.15,2.15,2.15,2.15,2.15,2.15,2.15,
2.15,2.15,2.15,2.15,2.15,2.15,2.15,2.15,2.15,2.15,
2.12,2.12,2.12,2.12,2.12,2.12,2.12,2.12,2.12,2.12,
2.12,2.12,2.12,2.12,2.12,2.12,2.12,2.12,2.12,2.12,
2.12,2.12,2.12,2.12,2.12,2.12,2.12,2.12,2.12,2.12];
const F9_PSO=[2.58,2.58,2.58,2.58,2.58,2.58,2.58,2.58,2.58,2.58,
2.58,2.58,2.58,2.58,2.58,2.58,2.58,2.58,2.58,2.58,
2.15,2.15,2.15,2.15,2.15,2.15,2.15,2.15,2.15,2.15,
2.15,2.15,2.15,2.15,2.15,2.15,2.15,2.15,2.15,2.15,
1.95,1.95,1.95,1.95,1.95,1.95,1.95,1.95,1.95,1.95,
1.95,1.95,1.95,1.95,1.95,1.95,1.95,1.95,1.95,1.95,
1.8,1.8,1.8,1.8,1.8,1.8,1.8,1.8,1.8,1.8,
1.8,1.8,1.8,1.8,1.8,1.8,1.8,1.8,1.8,1.8,
1.72,1.72,1.72,1.72,1.72,1.72,1.72,1.72,1.72,1.72,
1.72,1.72,1.72,1.72,1.72,1.72,1.72,1.72,1.72,1.72];
const F9_GA=[2.6,2.6,2.6,2.6,2.6,2.6,2.6,2.6,2.6,2.6,
2.6,2.6,2.5,2.45,2.4,2.35,2.35,2.3,2.3,2.25,
2.25,2.2,2.2,2.2,2.15,2.15,2.15,2.1,2.1,2.1,
2.05,2.05,2.05,2.05,2.05,2.05,2.05,2.05,2.05,2.05,
2.0,2.0,2.0,2.0,2.0,1.95,1.95,1.95,1.95,1.95,
1.9,1.9,1.9,1.9,1.9,1.9,1.9,1.9,1.9,1.9,
1.85,1.85,1.85,1.85,1.85,1.85,1.85,1.85,1.85,1.85,
1.8,1.8,1.8,1.8,1.8,1.8,1.8,1.8,1.8,1.8,
1.75,1.75,1.75,1.75,1.75,1.75,1.75,1.75,1.75,1.75,
1.7,1.7,1.7,1.7,1.7,1.7,1.7,1.7,1.7,1.7];

// Axis ranges (log10 units for log panels)
const Y_MIN = [-58.5,-56.7,-50,-58.6,0,-0.3,-5,null,-13.2];
const Y_MAX = [4.2,20,4.6,4.2,10,5,1.8,null,2.75];
const Y_LABELS = [[0],[0],[-50,0],[0],[0,5,10],[0,5],[-5,0],null,[0]];
const Y_MAJOR = [[0],[0],[0],[0],[5],[0],[0],null,[0]];
const Y_MINOR = [[-10,-20,-30,-40,-50],[10,-10,-20,-30,-40,-50],[-10,-20,-30,-40],[-10,-20,-30,-40,-50],
  [1,2,3,4,6,7,8,9],[1,2,3,4],[1,-1,-2,-3,-4],null,[-5,-10]];
// F8 (negative values, log-magnitude axis)
const F8_RANGE = [-2420,-9400];
const F8_LABELS = [-4000,-6000,-8000];
const F8_MINOR = [-2500,-3000,-3500,-4500,-5000,-5500,-6500,-7000,-7500,-8500,-9000];

// ===== Styling / layout =====
const COLORS = ['#DD4F2C','#1AA0C8','#F0BE64','#2DB46E','#50646E'];
const PLUS = 'path://M3,0h2v3h3v2h-3v3h-2v-3h-3v-2h3z';
const SYMBOLS = ['circle', PLUS, 'circle', PLUS, 'diamond'];
const SYM_SIZE = [5, 6, 4, 5, [6,8]];
const COL_LEFT = [238, 753, 1268], COL_W = [391, 390, 390];
const ROW_TOP = [69, 283, 499], ROW_H = [126, 128, 127];
const YNAME_GAP = [33,35,43,33,43,35,38,48,35];
const SANS = 'Liberation Sans', SERIF = 'Liberation Serif', CJK = 'Noto Sans CJK SC';
const TXT = '#262626';

const PANEL_DATA = [
 [F1_AAMCWOA,F1_GWO,F1_WOA,F1_PSO,F1_GA],
 [F2_AAMCWOA,F2_GWO,F2_WOA,F2_PSO,F2_GA],
 [F3_AAMCWOA,F3_GWO,F3_WOA,F3_PSO,F3_GA],
 [F4_AAMCWOA,F4_GWO,F4_WOA,F4_PSO,F4_GA],
 [F5_AAMCWOA,F5_GWO,F5_WOA,F5_PSO,F5_GA],
 [F6_AAMCWOA,F6_GWO,F6_WOA,F6_PSO,F6_GA],
 [F7_AAMCWOA,F7_GWO,F7_WOA,F7_PSO,F7_GA],
 [F8_AAMCWOA,F8_GWO,F8_WOA,F8_PSO,F8_GA],
 [F9_AAMCWOA,F9_GWO,F9_WOA,F9_PSO,F9_GA]
];

const grids=[], xAxes=[], yAxes=[], series=[], titles=[];
const richLbl = {
  b:{fontSize:14,fontFamily:SANS,color:TXT,lineHeight:14,verticalAlign:'bottom'},
  s:{fontSize:10,fontFamily:SANS,color:TXT,lineHeight:10,padding:[0,0,8,0],verticalAlign:'top'}
};
const lg = v => Math.log10(-v);

PANEL_DATA.forEach((sets,k)=>{
  const col=k%3,row=Math.floor(k/3);
  const isNeg = (k===7);
  grids.push({left:COL_LEFT[col],top:ROW_TOP[row],width:COL_W[col],height:ROW_H[row],
    show:true,borderColor:TXT,borderWidth:1,backgroundColor:'#fff',containLabel:false,outerBoundsMode:'none'});
  titles.push({text:PANEL_TITLES[k],left:COL_LEFT[col]+COL_W[col]/2,top:ROW_TOP[row]-27,textAlign:'center',padding:0,
    textStyle:{fontFamily:k===0?SERIF:SANS,fontSize:k===0?20:19,fontWeight:'normal',color:'#000'}});
  xAxes.push({gridIndex:k,type:'value',min:0,max:100,interval:20,
    name:'进化代数',nameLocation:'middle',nameGap:28,
    nameTextStyle:{fontFamily:CJK,fontSize:19,color:'#333'},
    axisLine:{show:true,lineStyle:{color:TXT,width:1}},
    axisTick:{show:true,inside:true,length:4,lineStyle:{color:TXT}},
    axisLabel:{fontFamily:SANS,fontSize:14,color:TXT,margin:10,formatter:v=>X_TICKS.indexOf(v)>=0?String(v):''},
    splitLine:{show:true,showMinLine:false,showMaxLine:false,lineStyle:{color:'#E2E2E2',width:1}}});
  let ymin,ymax,labels,major,minor,fmt,rich;
  if(isNeg){
    ymin=lg(F8_RANGE[0]); ymax=lg(F8_RANGE[1]);
    labels=F8_LABELS.map(lg); major=labels; minor=F8_MINOR.map(lg);
    fmt=v=>'-'+Math.round(Math.pow(10,v)); rich=undefined;
  } else {
    ymin=Y_MIN[k]; ymax=Y_MAX[k]; labels=Y_LABELS[k]; major=Y_MAJOR[k]; minor=Y_MINOR[k];
    fmt=v=>'{b|10}{s|'+Math.round(v)+'}'; rich=richLbl;
  }
  yAxes.push({gridIndex:k,type:'value',min:ymin,max:ymax,inverse:isNeg,position:'left',
    name:'适应度',nameLocation:'middle',nameGap:YNAME_GAP[k],nameRotate:90,
    nameTextStyle:{fontFamily:CJK,fontSize:19,color:'#333'},
    axisLine:{show:true,lineStyle:{color:TXT,width:1}},
    axisTick:{show:true,inside:true,length:4,lineStyle:{color:TXT},customValues:major},
    axisLabel:{show:true,customValues:labels,formatter:fmt,rich:rich,margin:6,fontFamily:SANS,fontSize:14,color:TXT},
    splitLine:{show:true,lineStyle:{color:'#E2E2E2',width:1}}});
  yAxes.push({gridIndex:k,type:'value',min:ymin,max:ymax,inverse:isNeg,position:'right',
    axisLine:{show:true,lineStyle:{color:TXT,width:1}},
    axisTick:{show:false,customValues:minor},
    axisLabel:{show:false},
    splitLine:{show:true,lineStyle:{color:'#DADADA',width:1,type:[2,2]}}});
  sets.forEach((arr,j)=>{
    series.push({type:'line',name:SERIES_NAMES[j],xAxisIndex:k,yAxisIndex:2*k,
      data:arr.map((v,i)=>[i+1, isNeg?lg(v):v]),
      symbol:SYMBOLS[j],symbolSize:SYM_SIZE[j],showSymbol:true,clip:true,
      lineStyle:{color:COLORS[j],width:1.5},itemStyle:{color:COLORS[j]},
      emphasis:{disabled:true},silent:true,z:2+j});
  });
});

const option = {
  animation:false,
  backgroundColor:'#fff',
  title:titles,
  legend:{orient:'vertical',left:23,top:173,data:SERIES_NAMES,
    itemWidth:50,itemHeight:8,itemGap:3.7,padding:[3,5,3,5],
    borderColor:'#000',borderWidth:1,backgroundColor:'#fff',
    textStyle:{fontFamily:SERIF,fontSize:20,color:'#000',lineHeight:20}},
  grid:grids, xAxis:xAxes, yAxis:yAxes, series:series,
  graphic:[
    {type:'text',x:1003,y:363,rotation:24*Math.PI/180,silent:true,z:100,
      style:{text:'KAU的云实验台',font:'109px "Noto Sans CJK SC"',fill:'rgba(128,128,128,0.36)',
        textAlign:'center',textVerticalAlign:'middle'}},
    {type:'text',x:1817,y:701,silent:true,z:100,
      style:{text:'CSDN @KAU的云实验台',font:'18px "Noto Sans CJK SC"',fill:'#999',
        textAlign:'right',textVerticalAlign:'middle'}}
  ]
};
const chart = echarts.init(document.getElementById('c'), null, {renderer:'canvas'});
chart.setOption(option);
</script>
</body></html>
